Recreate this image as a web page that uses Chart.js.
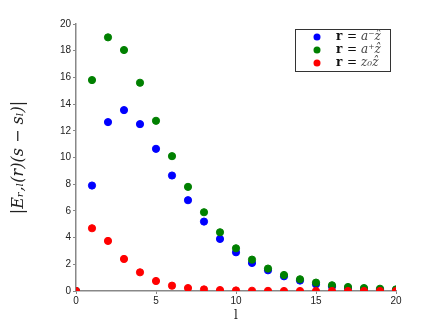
<!DOCTYPE html>
<html lang="en">
<head>
    <meta charset="UTF-8">
    <title>Chart</title>
    <script src="https://cdn.jsdelivr.net/npm/chart.js"></script>
    <style>
        body { margin: 0; background: #fff; }
        #wrap { width: 436px; height: 328px; }
    </style>
</head>
<body>
    <div id="wrap"><canvas id="chart" width="436" height="328"></canvas></div>

    <script>
        // data
        const ls = [0, 1, 2, 3, 4, 5, 6, 7, 8, 9, 10, 11, 12, 13, 14, 15, 16, 17, 18, 19, 20];
        const aMinus = [0, 7.9, 12.65, 13.55, 12.5, 10.65, 8.65, 6.8, 5.2, 3.9, 2.9, 2.1, 1.55, 1.1, 0.78, 0.5, 0.33, 0.22, 0.15, 0.1, 0.07];
        const aPlus = [0, 15.8, 19.0, 18.05, 15.6, 12.75, 10.1, 7.8, 5.9, 4.4, 3.2, 2.35, 1.68, 1.2, 0.88, 0.63, 0.43, 0.3, 0.22, 0.17, 0.12];
        const z0 = [0, 4.7, 3.75, 2.4, 1.4, 0.75, 0.4, 0.22, 0.12, 0.07, 0.04, 0.02, 0.01, 0, 0, 0, 0, 0, 0, 0, 0];
        const xTicks = [0, 5, 10, 15, 20];

        const toPts = arr => ls.map((l, i) => ({ x: l, y: arr[i] }));

        // legend drawn inside the plot, with a box round it
        const boxLegend = {
            id: 'boxLegend',
            afterDraw(chart) {
                const ctx = chart.ctx;
                const x0 = 295, y0 = 29, w = 95, h = 42;
                ctx.save();
                ctx.fillStyle = '#fff';
                ctx.fillRect(x0, y0, w, h);
                ctx.strokeStyle = '#333';
                ctx.lineWidth = 1;
                ctx.strokeRect(x0 + 0.5, y0 + 0.5, w, h);
                const rows = [
                    { c: '#0000ff', t: 'a\u207B\u1E91' },
                    { c: '#008000', t: 'a\u207A\u1E91' },
                    { c: '#ff0000', t: 'z\u2080\u1E91' }
                ];
                rows.forEach((r, i) => {
                    const y = y0 + 8 + i * 13;
                    ctx.fillStyle = r.c;
                    ctx.beginPath();
                    ctx.arc(x0 + 22, y, 3.5, 0, Math.PI * 2);
                    ctx.fill();
                    ctx.fillStyle = '#111';
                    ctx.textBaseline = 'middle';
                    ctx.font = 'bold 12px "DejaVu Serif"';
                    ctx.fillText('r', x0 + 41, y);
                    ctx.font = '12px "DejaVu Serif"';
                    ctx.fillText('=', x0 + 52, y);
                    ctx.font = 'italic 12px "DejaVu Serif"';
                    ctx.fillStyle = '#444';
                    ctx.fillText(r.t, x0 + 66, y);
                });
                ctx.restore();
            }
        };

        new Chart(document.getElementById('chart'), {
            type: 'scatter',
            data: {
                datasets: [
                    { label: 'r = a-z', data: toPts(aMinus), backgroundColor: '#0000ff', borderColor: '#0000ff', pointRadius: 3.6, order: 3 },
                    { label: 'r = a+z', data: toPts(aPlus), backgroundColor: '#008000', borderColor: '#008000', pointRadius: 3.6, order: 2 },
                    { label: 'r = z0z', data: toPts(z0), backgroundColor: '#ff0000', borderColor: '#ff0000', pointRadius: 3.6, order: 1 }
                ]
            },
            options: {
                responsive: false,
                animation: false,
                layout: { padding: { left: 0, top: 24, right: 40, bottom: 5 } },
                plugins: { legend: { display: false }, tooltip: { enabled: false } },
                scales: {
                    x: {
                        type: 'linear',
                        min: 0, max: 20,
                        afterBuildTicks: s => { s.ticks = xTicks.map(v => ({ value: v })); },
                        grid: { display: true, drawOnChartArea: false, drawTicks: true, tickLength: 3, color: '#888' },
                        border: { color: '#888', width: 1.5 },
                        ticks: { color: '#222', font: { family: 'Liberation Sans', size: 10 }, padding: 1, maxRotation: 0 },
                        title: { display: true, text: 'l', color: '#222', font: { family: 'DejaVu Serif', size: 12 }, padding: { top: 0, bottom: 0 } },
                        afterFit: s => { s.height = 32; }
                    },
                    y: {
                        min: 0, max: 20,
                        ticks: { stepSize: 2, color: '#222', font: { family: 'Liberation Sans', size: 10 }, padding: 2 },
                        grid: { display: true, drawOnChartArea: false, drawTicks: true, tickLength: 3, color: '#888' },
                        border: { color: '#888', width: 1.5 },
                        title: { display: true, text: '|E\u1D63,\u2097(r)(s \u2212 s\u2097)|', color: '#222', font: { family: 'DejaVu Serif', size: 16, style: 'italic' }, padding: { top: 9, bottom: 0 } },
                        afterFit: s => { s.width = 76; }
                    }
                }
            },
            plugins: [boxLegend]
        });
    </script>
</body>
</html>
